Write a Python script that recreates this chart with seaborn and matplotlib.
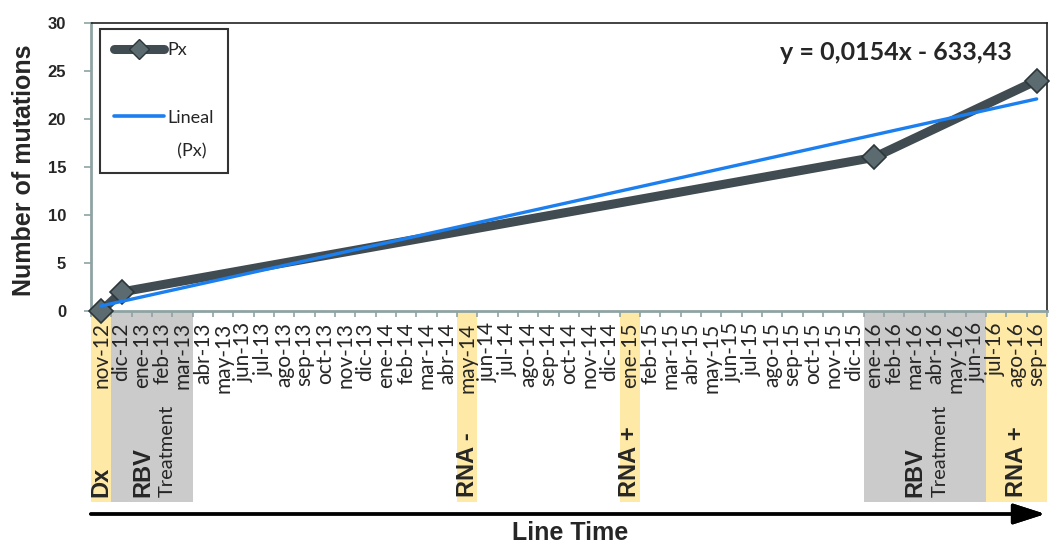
import numpy as np
import pandas as pd
import seaborn as sns
import matplotlib.pyplot as plt
from matplotlib.lines import Line2D
from matplotlib.patches import Rectangle
import matplotlib.transforms as mtransforms

# months on the time axis (spanish abbreviations, as in the source)
months = ['nov-12', 'dic-12',
          'ene-13', 'feb-13', 'mar-13', 'abr-13', 'may-13', 'jun-13',
          'jul-13', 'ago-13', 'sep-13', 'oct-13', 'nov-13', 'dic-13',
          'ene-14', 'feb-14', 'mar-14', 'abr-14', 'may-14', 'jun-14',
          'jul-14', 'ago-14', 'sep-14', 'oct-14', 'nov-14', 'dic-14',
          'ene-15', 'feb-15', 'mar-15', 'abr-15', 'may-15', 'jun-15',
          'jul-15', 'ago-15', 'sep-15', 'oct-15', 'nov-15', 'dic-15',
          'ene-16', 'feb-16', 'mar-16', 'abr-16', 'may-16', 'jun-16',
          'jul-16', 'ago-16', 'sep-16']

# sampled points (patient Px)
sample_months = ['nov-12', 'dic-12', 'ene-16', 'sep-16']
mutations = [0, 2, 16, 24]

# shaded periods under the axis
band_start = ['nov-12', 'dic-12', 'may-14', 'ene-15', 'ene-16', 'jul-16']
band_end = ['nov-12', 'mar-13', 'may-14', 'ene-15', 'jun-16', 'sep-16']
band_label = ['Dx', 'RBV', 'RNA -', 'RNA +', 'RBV', 'RNA +']
band_kind = ['event', 'treatment', 'event', 'event', 'treatment', 'event']

equation = 'y = 0,0154x - 633,43'
yticks = [0, 5, 10, 15, 20, 25, 30]

YELLOW = '#fee9a6'
GREY = '#cbcbcb'
DARK = '#404c51'
BLUE = '#1c7ff0'
AXIS = '#8fa3a3'

sns.set_theme(style='white')
plt.rcParams['font.family'] = ['Lato', 'DejaVu Sans']

df = pd.DataFrame({'month': sample_months, 'mutations': mutations})
df['idx'] = [months.index(m) for m in df['month']]

# linear trend line
slope, icpt = np.polyfit(df['idx'], df['mutations'], 1)
trend = pd.DataFrame({'idx': np.arange(len(months))})
trend['fit'] = icpt + slope * trend['idx']

fig, ax = plt.subplots(figsize=(10.5, 5.45), dpi=100)
fig.subplots_adjust(left=0.0867, right=0.997, top=0.958, bottom=0.429)

sns.lineplot(data=df, x='idx', y='mutations', ax=ax, color=DARK, linewidth=6.5,
             marker='D', markersize=12, markerfacecolor='#5c6b70',
             markeredgecolor='#2c373b', markeredgewidth=1.2, clip_on=False, zorder=3)
sns.lineplot(data=trend, x='idx', y='fit', ax=ax, color=BLUE, linewidth=2.4, zorder=4)

ax.set_xlim(-0.5, len(months) - 0.5)
ax.set_ylim(0, 30)
ax.set_yticks(yticks, labels=[str(v) for v in yticks], fontsize=12,
              fontweight='bold', family='Liberation Sans')
ax.set_xticks(range(len(months)))
ax.set_xticklabels(months, rotation=90, fontsize=15, va='top', ha='center')
ax.set_xticks(np.arange(len(months) + 1) - 0.5, minor=True)
ax.tick_params(axis='x', which='major', length=0, pad=8)
ax.tick_params(axis='x', which='minor', bottom=True, length=4, width=1.2, color=AXIS)
ax.tick_params(axis='y', left=True, length=5, width=1.2, color=AXIS, pad=13)
ax.set_xlabel('')
ax.set_ylabel('Number of mutations', fontsize=18, fontweight='bold',
              family='Liberation Sans')
ax.yaxis.set_label_coords(-0.058, 0.49)

for side in ['left', 'bottom']:
    ax.spines[side].set_color(AXIS)
    ax.spines[side].set_linewidth(2)
for side in ['top', 'right']:
    ax.spines[side].set_color('#222222')
    ax.spines[side].set_linewidth(1.2)
ax.set_axisbelow(False)

# shaded periods below the x axis
trans = mtransforms.blended_transform_factory(ax.transData, ax.transAxes)
for s, e, lab, kind in zip(band_start, band_end, band_label, band_kind):
    i0, i1 = months.index(s), months.index(e)
    col = YELLOW if kind == 'event' else GREY
    ax.add_patch(Rectangle((i0 - 0.5, -0.663), i1 - i0 + 1, 0.663, transform=trans,
                           facecolor=col, edgecolor='none', clip_on=False, zorder=0))
    mid = (i0 + i1) / 2
    if kind == 'treatment':
        ax.text(mid - 0.47, -0.645, lab, transform=trans, rotation=90, ha='center',
                va='bottom', fontsize=17, fontweight='bold', family='Liberation Sans')
        ax.text(mid + 0.74, -0.645, 'Treatment', transform=trans, rotation=90,
                ha='center', va='bottom', fontsize=14.5)
    else:
        ax.text(mid, -0.645, lab, transform=trans, rotation=90, ha='center',
                va='bottom', fontsize=17, fontweight='bold', family='Liberation Sans')

# legend
handles = [Line2D([], [], color=DARK, linewidth=6.5, marker='D', markersize=10,
                  markerfacecolor='#5c6b70', markeredgecolor='#2c373b'),
           Line2D([], [], color='none'),
           Line2D([], [], color=BLUE, linewidth=2.6),
           Line2D([], [], color='none')]
leg = ax.legend(handles, ['Px', '', 'Lineal', '  (Px)'], loc='upper left',
                bbox_to_anchor=(0.0094, 0.979), borderaxespad=0, fontsize=13,
                handlelength=2.8, handletextpad=0.2, labelspacing=0.97,
                borderpad=0.75, frameon=True, fancybox=False)
leg.get_frame().set_edgecolor('black')
leg.get_frame().set_linewidth(1.5)

ax.text(0.842, 0.896, equation, transform=ax.transAxes, ha='center', va='center',
        fontsize=18, fontweight='bold')

# time arrow
fig.add_artist(plt.annotate('', xy=(1048 / 1050, 1 - 514 / 545),
                            xytext=(88 / 1050, 1 - 514 / 545),
                            xycoords='figure fraction', textcoords='figure fraction',
                            arrowprops=dict(arrowstyle='-|>,head_length=1.4,head_width=0.45',
                                            color='black', lw=2.4, mutation_scale=14)))
fig.text(570 / 1050, 1 - 533 / 545, 'Line Time', ha='center', va='center',
         fontsize=18, fontweight='bold', family='Liberation Sans')

fig.savefig('out.png', dpi=100)
